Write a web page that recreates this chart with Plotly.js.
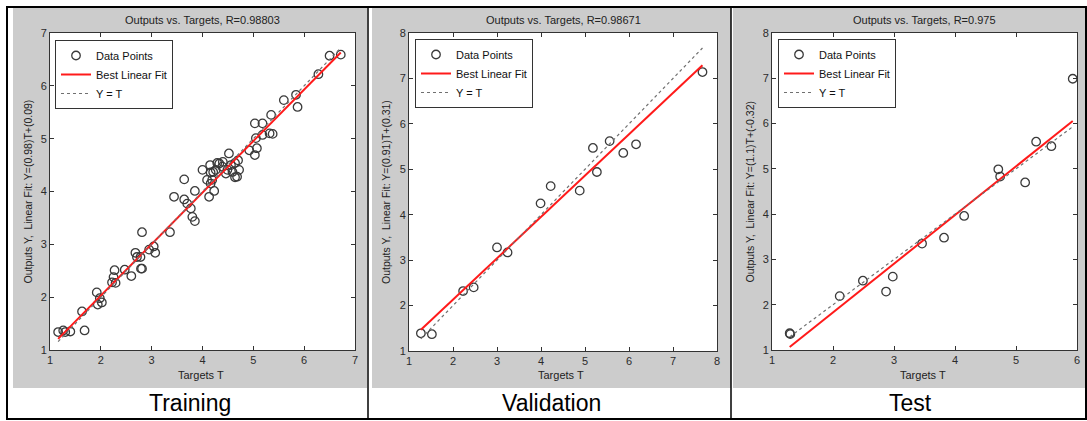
<!DOCTYPE html>
<html><head><meta charset="utf-8">
<script src="https://cdn.plot.ly/plotly-3.0.1.min.js"></script>
<style>html,body{margin:0;padding:0;background:#fff}#chart{width:1087px;height:421px}</style>
</head><body><div id="chart"></div>
<script>
// ---------- data ----------
const trainT = [1.16,1.26,1.30,1.40,1.63,1.68,1.92,1.94,2.02,1.98,2.25,2.27,2.29,2.22,2.47,2.60,2.68,2.71,2.79,2.81,2.81,2.78,2.95,3.04,3.07,3.36,3.44,3.64,3.64,3.70,3.77,3.80,3.85,3.85,4.00,4.13,4.16,4.16,4.19,4.23,4.26,4.33,4.39,4.46,4.52,4.56,4.49,4.59,4.68,4.70,4.72,4.92,5.03,5.05,5.03,5.07,5.18,5.18,5.35,5.32,5.38,5.60,5.84,5.87,6.50,6.72,4.15,4.29,4.40,4.64,4.64,4.21,4.09,6.28];
const trainY = [1.34,1.37,1.34,1.35,1.73,1.37,2.09,1.86,1.90,1.98,2.38,2.51,2.27,2.28,2.52,2.40,2.84,2.76,2.54,2.54,3.23,2.76,2.90,2.96,2.84,3.23,3.90,4.23,3.85,3.77,3.68,3.52,3.44,4.01,4.41,3.90,4.36,4.15,4.22,4.01,4.41,4.53,4.47,4.34,4.72,4.50,4.41,4.37,4.28,4.59,4.41,4.78,5.29,5.01,4.69,4.82,5.29,5.07,5.45,5.10,5.09,5.73,5.83,5.60,6.57,6.59,4.50,4.54,4.56,4.54,4.27,4.37,4.22,6.22];
const valT = [1.27,1.52,2.23,2.47,3.00,3.24,3.99,4.22,4.88,5.18,5.27,5.56,5.87,6.16,7.67];
const valY = [1.39,1.37,2.32,2.40,3.28,3.17,4.25,4.63,4.53,5.47,4.94,5.62,5.36,5.55,7.14];
const testT = [1.29,1.30,2.11,2.49,2.87,2.98,3.46,3.82,4.15,4.71,4.74,5.15,5.33,5.58,5.93];
const testY = [1.37,1.35,2.19,2.53,2.29,2.62,3.35,3.48,3.96,4.99,4.83,4.70,5.60,5.50,6.99];
const fitSlopes = [0.975, 0.91, 1.075];
const fitIntercepts = [0.08, 0.31, -0.32];
const panelTitles = ['Outputs vs. Targets, R=0.98803','Outputs vs. Targets, R=0.98671','Outputs vs. Targets, R=0.975'];
const yTitles = ['Outputs Y,  Linear Fit: Y=(0.98)T+(0.09)','Outputs Y,  Linear Fit: Y=(0.91)T+(0.31)','Outputs Y,  Linear Fit: Y=(1.1)T+(-0.32)'];
const xTitle = 'Targets T';
const captions = ['Training','Validation','Test'];
const legendNames = ['Data Points','Best Linear Fit','Y = T'];
const xRanges = [[1,7],[1,8],[1,6]];
const yRanges = [[1,7],[1,8],[1,8]];

// ---------- layout helpers ----------
const W = 1087, H = 421;
const PX = v => v / W;
const PY = v => 1 - v / H;
const FONT = 'Liberation Sans, Arial, sans-serif';
const plots = [
  {x0:50, x1:355, y0:33, y1:350, gx0:13, gx1:367, lx:55, ly:40},
  {x0:409, x1:717, y0:33, y1:351, gx0:372, gx1:731, lx:415, ly:39},
  {x0:772, x1:1077, y0:33, y1:350, gx0:733, gx1:1087, lx:778, ly:39}
];
const sets = [[trainT, trainY],[valT, valY],[testT, testY]];

const traces = [];
const layout = {
  width: W, height: H,
  margin: {l:0, r:0, t:0, b:0},
  paper_bgcolor: '#ffffff',
  plot_bgcolor: 'rgba(0,0,0,0)',
  font: {family: FONT, color: '#2b2b2b'},
  showlegend: true,
  shapes: [], annotations: []
};

plots.forEach((p, i) => {
  const n = i === 0 ? '' : String(i + 1);
  const xa = 'x' + n, ya = 'y' + n;
  const lg = 'legend' + n;
  const [T, Y] = sets[i];
  const tmin = Math.min(...T), tmax = Math.max(...T);
  traces.push({
    x: T, y: Y, xaxis: xa, yaxis: ya, type: 'scatter', mode: 'markers',
    name: legendNames[0], legend: lg,
    marker: {symbol: 'circle-open', size: 8.5, color: '#3a3a3a', line: {width: 1.3}},
    hoverinfo: 'x+y'
  });
  traces.push({
    x: [tmin, tmax], y: [fitSlopes[i] * tmin + fitIntercepts[i], fitSlopes[i] * tmax + fitIntercepts[i]],
    xaxis: xa, yaxis: ya, type: 'scatter', mode: 'lines',
    name: legendNames[1], legend: lg,
    line: {color: '#ff1a1a', width: 2}
  });
  traces.push({
    x: [tmin, tmax], y: [tmin, tmax],
    xaxis: xa, yaxis: ya, type: 'scatter', mode: 'lines',
    name: legendNames[2], legend: lg,
    line: {color: '#707070', width: 1.2, dash: 'dot'}
  });
  const axCommon = {
    showgrid: false, zeroline: false, showline: true, linecolor: '#333333', linewidth: 1,
    mirror: 'ticks', ticks: 'inside', ticklen: 4, tickcolor: '#333333', dtick: 1,
    tickfont: {family: FONT, size: 11, color: '#2b2b2b'}, fixedrange: true
  };
  layout['xaxis' + n] = Object.assign({}, axCommon, {
    domain: [PX(p.x0), PX(p.x1)], range: xRanges[i], anchor: ya
  });
  layout['yaxis' + n] = Object.assign({}, axCommon, {
    domain: [PY(p.y1), PY(p.y0)], range: yRanges[i], anchor: xa
  });
  layout[lg] = {
    x: PX(p.lx), y: PY(p.ly), xanchor: 'left', yanchor: 'top',
    bgcolor: '#ffffff', bordercolor: '#333333', borderwidth: 1,
    font: {family: FONT, size: 11, color: '#111111'}, tracegroupgap: 0
  };
  // grey figure background
  layout.shapes.push({type: 'rect', xref: 'paper', yref: 'paper', layer: 'below',
    x0: PX(p.gx0), x1: PX(p.gx1), y0: PY(388), y1: PY(8),
    fillcolor: '#cccccc', line: {width: 0}});
  // white plot area
  layout.shapes.push({type: 'rect', xref: xa + ' domain', yref: ya + ' domain', layer: 'below',
    x0: 0, x1: 1, y0: 0, y1: 1, fillcolor: '#ffffff', line: {width: 0}});
  const cx = (p.x0 + p.x1) / 2;
  layout.annotations.push({text: panelTitles[i], xref: 'paper', yref: 'paper',
    x: PX(cx), y: PY(20), xanchor: 'center', yanchor: 'middle', showarrow: false,
    font: {family: FONT, size: 11, color: '#222222'}});
  layout.annotations.push({text: xTitle, xref: 'paper', yref: 'paper',
    x: PX(cx - 2), y: PY(375), xanchor: 'center', yanchor: 'middle', showarrow: false,
    font: {family: FONT, size: 11, color: '#222222'}});
  layout.annotations.push({text: yTitles[i], xref: 'paper', yref: 'paper', textangle: -90,
    x: PX(p.x0 - 23), y: PY((p.y0 + p.y1) / 2), xanchor: 'center', yanchor: 'middle', showarrow: false,
    font: {family: FONT, size: 10.5, color: '#222222'}});
  layout.annotations.push({text: captions[i], xref: 'paper', yref: 'paper',
    x: PX((p.gx0 + p.gx1) / 2), y: PY(403), xanchor: 'center', yanchor: 'middle', showarrow: false,
    font: {family: FONT, size: 23, color: '#000000'}});
});

// table borders
layout.shapes.push({type: 'rect', xref: 'paper', yref: 'paper', layer: 'above',
  x0: PX(7), x1: PX(1086), y0: PY(419), y1: PY(7), line: {color: '#000000', width: 2}});
[368, 731].forEach(v => layout.shapes.push({type: 'line', xref: 'paper', yref: 'paper', layer: 'above',
  x0: PX(v), x1: PX(v), y0: PY(419), y1: PY(7), line: {color: '#000000', width: 1.5}}));

Plotly.newPlot('chart', traces, layout, {displayModeBar: false, staticPlot: true});
</script></body></html>
